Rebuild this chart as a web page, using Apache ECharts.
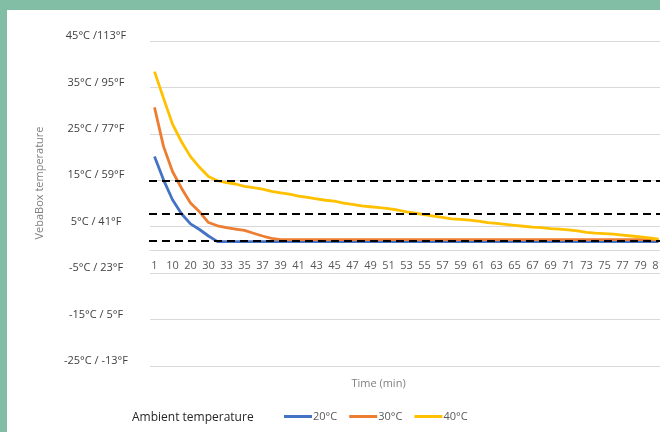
<!DOCTYPE html>
<html>
<head>
<meta charset="utf-8">
<script src="https://cdn.jsdelivr.net/npm/echarts@6/dist/echarts.min.js"></script>
<style>
html,body{margin:0;padding:0;background:#82BDA6;}
#bg{position:absolute;left:7px;top:10px;width:653px;height:422px;background:#fff;}
#chart{position:absolute;left:0;top:0;width:660px;height:432px;}
</style>
</head>
<body>
<div id="bg"></div>
<div id="chart"></div>
<script>
const categories = [1,5,10,15,20,25,30,31,33,34,35,36,37,38,39,40,41,42,43,44,45,46,47,48,49,50,51,52,53,54,55,56,57,58,59,60,61,62,63,64,65,66,67,68,69,70,71,72,73,74,75,76,77,78,79,80,81];
const yTickLabels = ['-25°C / -13°F','-15°C / 5°F','-5°C / 23°F','5°C / 41°F','15°C / 59°F','25°C / 77°F','35°C / 95°F','45°C /113°F'];
const seriesNames = ['20°C','30°C','40°C'];
const ambient20 = [20.1,15.1,10.8,7.8,5.6,4.4,3.0,1.8,1.8,1.8,
  1.8,1.8,1.8,1.8,1.8,1.8,1.8,1.8,1.8,1.8,
  1.8,1.8,1.8,1.8,1.8,1.8,1.8,1.8,1.8,1.8,
  1.8,1.8,1.8,1.8,1.8,1.8,1.8,1.8,1.8,1.8,
  1.8,1.8,1.8,1.8,1.8,1.8,1.8,1.8,1.8,1.8,
  1.8,1.8,1.8,1.8,1.8,1.8,1.8];
const ambient30 = [30.7,22.3,16.9,13.3,10.1,8.2,5.9,5.2,4.8,4.5,
  4.2,3.6,3.0,2.5,2.2,2.2,2.2,2.2,2.2,2.2,
  2.2,2.2,2.2,2.2,2.2,2.2,2.2,2.2,2.2,2.2,
  2.2,2.2,2.2,2.2,2.2,2.2,2.2,2.2,2.2,2.2,
  2.2,2.2,2.2,2.2,2.2,2.2,2.2,2.2,2.2,2.2,
  2.2,2.2,2.2,2.2,2.2,2.2,2.2];
const ambient40 = [38.4,32.7,27.1,23.3,20.1,17.8,15.8,14.9,14.5,14.2,
  13.7,13.4,13.1,12.6,12.3,12.0,11.6,11.3,11.0,10.7,
  10.5,10.1,9.8,9.5,9.3,9.1,8.9,8.6,8.2,7.9,
  7.6,7.3,7.0,6.7,6.6,6.4,6.2,5.9,5.7,5.5,
  5.3,5.1,4.9,4.8,4.6,4.5,4.3,4.1,3.8,3.6,
  3.5,3.4,3.2,3.0,2.8,2.6,2.3];
const thresholdLines = [15, 7.7, 2];
const colors = ['#4472C4','#ED7D31','#FFC000'];
const yMin = -25, yMax = 45;

const FONT = 'Open Sans';
const TOP = 41, BOTTOM = 66, H = 432;
const plotH = H - TOP - BOTTOM;
const zeroOffset = -(plotH * (0 - yMin) / (yMax - yMin));

const chart = echarts.init(document.getElementById('chart'), null, {renderer:'canvas'});
const mkLine = (name, data, color) => ({
  name, type:'line', xAxisIndex:1, yAxisIndex:1, data,
  showSymbol:false, symbol:'none', smooth:false,
  lineStyle:{color, width:2.8}, itemStyle:{color}, z:3
});
chart.setOption({
  animation:false,
  textStyle:{fontFamily:FONT},
  grid:[
    {left:150, right:-8, top:TOP, bottom:BOTTOM, outerBoundsMode:'none', containLabel:false},
    {left:150, width:513, top:TOP, bottom:BOTTOM, outerBoundsMode:'none', containLabel:false},
    {left:149, right:-8, top:TOP, bottom:BOTTOM, outerBoundsMode:'none', containLabel:false}
  ],
  xAxis:[
    {gridIndex:0, type:'value', min:0, max:1, show:false},
    {gridIndex:1, type:'category', data:categories, boundaryGap:true, position:'bottom', offset:zeroOffset,
      axisLine:{show:true, onZero:false, lineStyle:{color:'#d9d9d9', width:1}},
      axisTick:{show:false},
      axisLabel:{interval:1, color:'#595959', fontSize:11, margin:10, fontFamily:FONT}},
    {gridIndex:2, type:'value', min:0, max:1, show:false}
  ],
  yAxis:[
    {gridIndex:0, type:'category', data:yTickLabels, boundaryGap:false,
      axisLine:{show:false}, axisTick:{show:false},
      splitLine:{show:true, interval:0, lineStyle:{color:'#d9d9d9', width:1}},
      axisLabel:{interval:0, align:'center', verticalAlign:'bottom', lineHeight:10, margin:54, color:'#404040', fontSize:11, fontFamily:FONT}},
    {gridIndex:1, type:'value', min:yMin, max:yMax, show:false},
    {gridIndex:2, type:'value', min:yMin, max:yMax, show:false}
  ],
  legend:{
    data:seriesNames, left:284, top:411, padding:0, icon:'rect', itemWidth:28, itemHeight:3, itemGap:12,
    textStyle:{color:'#595959', fontSize:11, fontFamily:FONT, padding:[0,0,0,-4]}
  },
  graphic:[
    {type:'text', x:40, y:183, rotation:Math.PI/2,
      style:{text:'VebaBox temperature', fill:'#7f7f7f', font:'11px "Open Sans"', textAlign:'center', textVerticalAlign:'middle'}},
    {type:'text', x:378.5, y:384,
      style:{text:'Time (min)', fill:'#7f7f7f', font:'11px "Open Sans"', textAlign:'center', textVerticalAlign:'middle'}},
    {type:'text', x:132, y:418,
      style:{text:'Ambient temperature', fill:'#262626', font:'12px "Open Sans"', textAlign:'left', textVerticalAlign:'middle'}}
  ],
  series:[
    mkLine(seriesNames[0], ambient20, colors[0]),
    mkLine(seriesNames[1], ambient30, colors[1]),
    mkLine(seriesNames[2], ambient40, colors[2]),
    {type:'line', xAxisIndex:2, yAxisIndex:2, data:[[0,15]], showSymbol:false, symbol:'none',
      lineStyle:{opacity:0}, silent:true, z:10, legendHoverLink:false,
      markLine:{silent:true, symbol:['none','none'], label:{show:false},
        lineStyle:{color:'#000', width:2, type:[8,5]},
        data:thresholdLines.map(v => ({yAxis:v}))}}
  ]
});
</script>
</body>
</html>
